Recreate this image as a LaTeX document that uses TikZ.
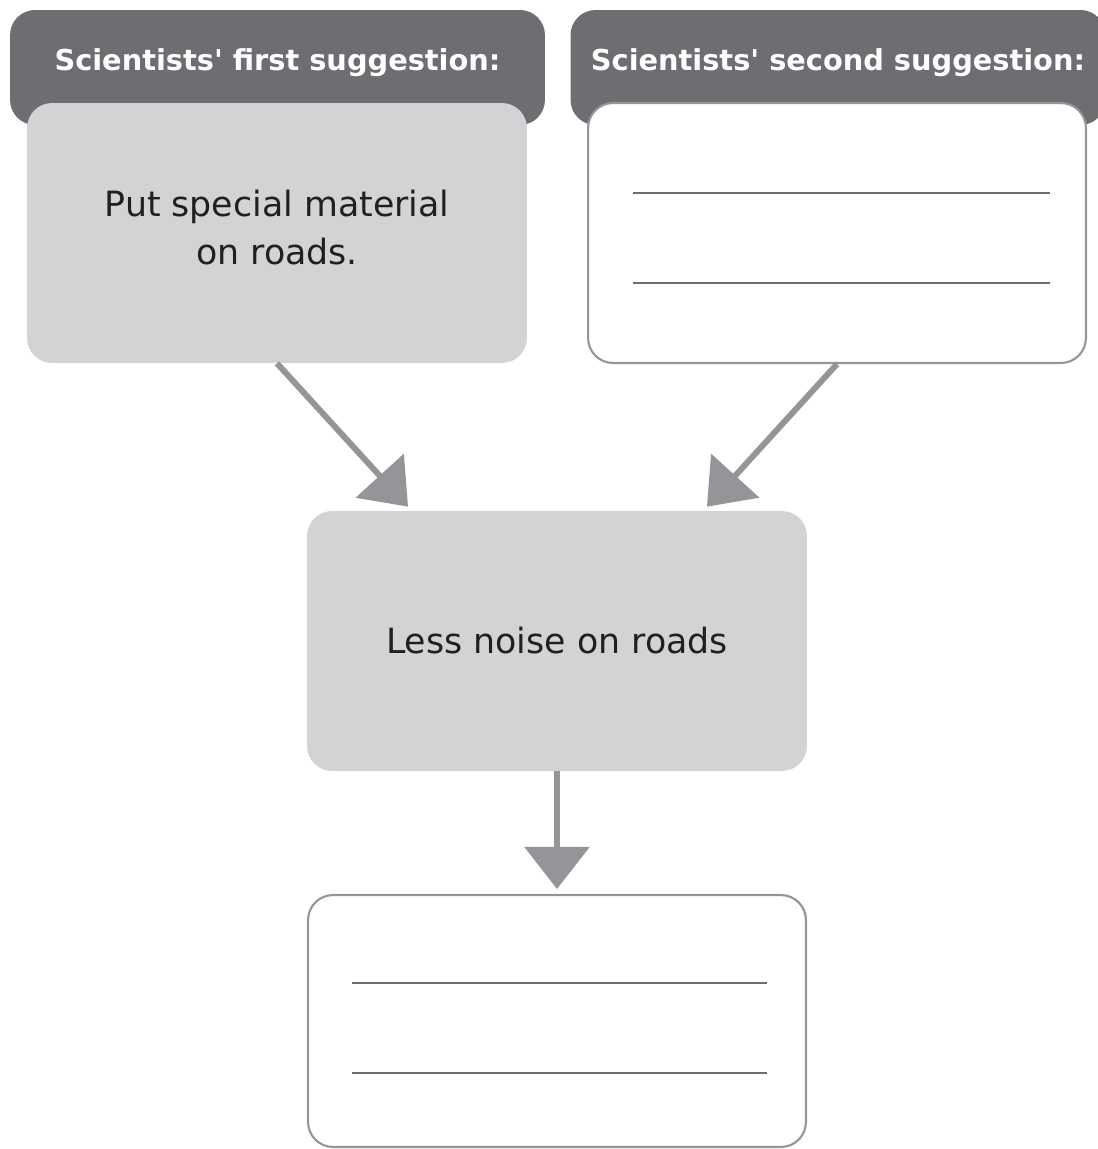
\documentclass[tikz,border=0pt]{standalone}
\usepackage{fontspec}
\setmainfont{DejaVu Sans}
\usetikzlibrary{arrows.meta}
\definecolor{tabgray}{HTML}{6D6E71}
\definecolor{boxgray}{HTML}{D1D3D4}
\definecolor{arrowgray}{HTML}{939598}
\definecolor{linegray}{HTML}{6D6E71}
\definecolor{textdark}{HTML}{231F20}

\begin{document}
\begin{tikzpicture}[x=0.02cm, y=-0.02cm,
    tab/.style={fill=tabgray, rounded corners=0.5cm, minimum width=10.7cm, minimum height=2.3cm, inner sep=0pt},
    tabtext/.style={text=white, font=\bfseries\fontsize{16.4}{19}\selectfont},
    fullbox/.style={fill=boxgray, rounded corners=0.5cm, minimum width=10cm, minimum height=5.2cm, inner sep=0pt,
        text=textdark, align=center, font=\fontsize{19.8}{27.5}\selectfont},
    emptybox/.style={fill=white, draw=arrowgray, line width=1.2pt, rounded corners=0.5cm, minimum width=9.96cm, minimum height=5.2cm, inner sep=0pt},
    answer/.style={draw=linegray, line width=0.8pt},
    flow/.style={draw=arrowgray, line width=3.4pt, -{Triangle[length=0.84cm, width=1.28cm]}}]
    \useasboundingbox (0,0) rectangle (1098,1149);

    % header tabs
    \node[tab] (tab1) at (277.5,67.5) {};
    \node[tab] (tab2) at (838,67.5) {};
    \node[tabtext] (head1) at (277.5,63) {Scientists\textquotesingle{} first suggestion:};
    \node[tabtext] (head2) at (838,63) {Scientists\textquotesingle{} second suggestion:};

    % boxes
    \node[fullbox] (first) at (277,233) {Put special material\\on roads.\\[-0.74cm]};
    \node[emptybox] (second) at (837,233) {};
    \node[fullbox] (less) at (557,641) {Less noise on roads};
    \node[emptybox, minimum height=5.04cm] (result) at (557,1021) {};

    % lines to write on
    \draw[answer] (633,193) -- (1050,193);
    \draw[answer] (633,283) -- (1050,283);
    \draw[answer] (352,983) -- (767,983);
    \draw[answer] (352,1073) -- (767,1073);

    % arrows
    \draw[flow] (first.south) -- ([xshift=-2.98cm,yshift=0.08cm]less.north);
    \draw[flow] (second.south) -- ([xshift=3cm,yshift=0.08cm]less.north);
    \draw[flow] (less.south) -- ([yshift=0.1cm]result.north);
\end{tikzpicture}
\end{document}
